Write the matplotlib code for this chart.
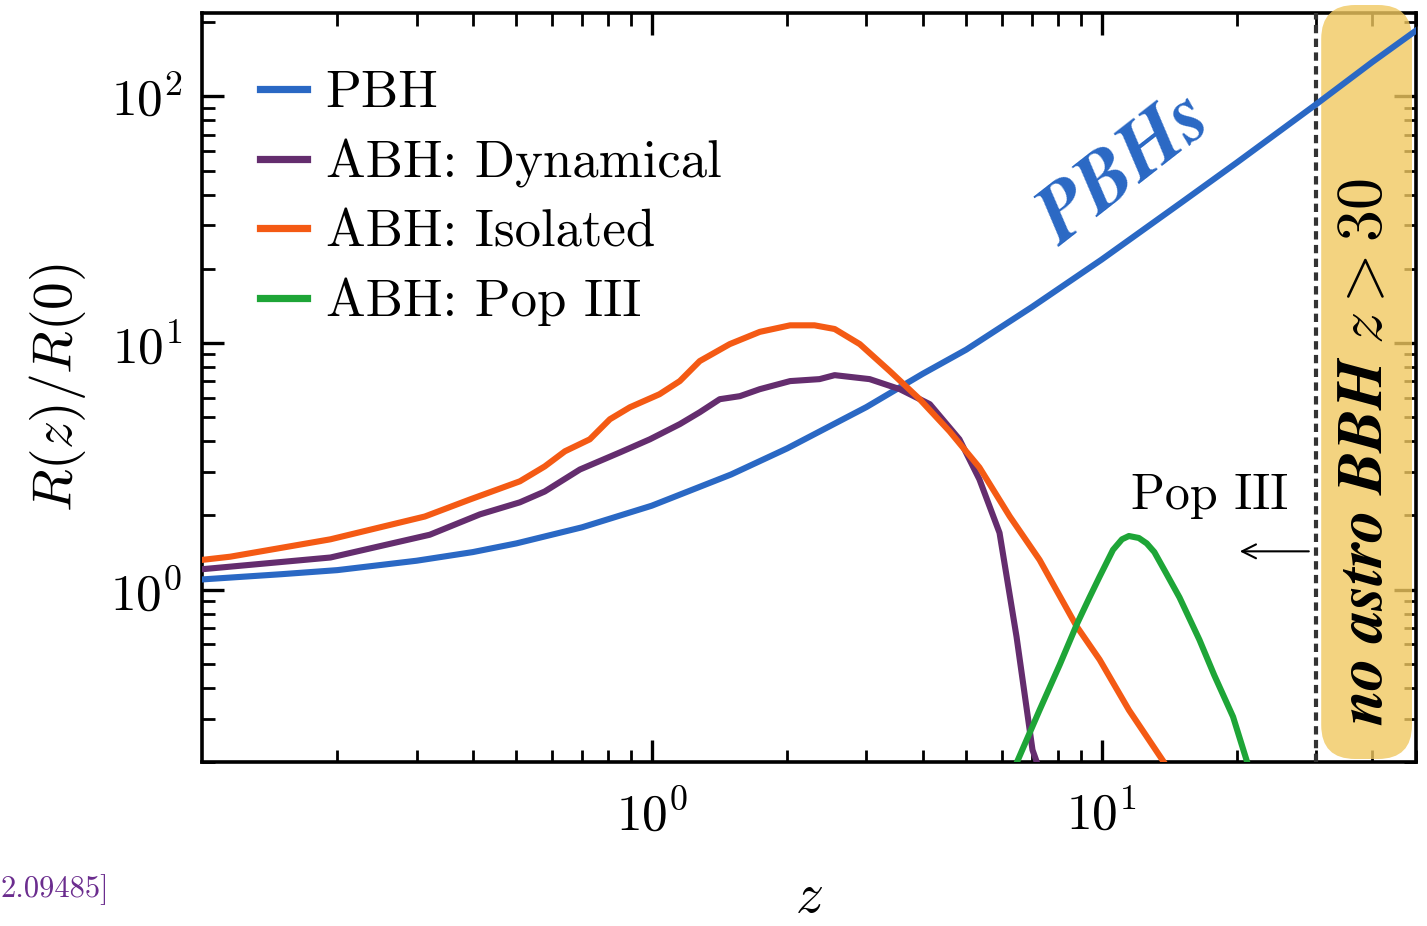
import matplotlib
matplotlib.use("Agg")
import matplotlib.pyplot as plt
from matplotlib.patches import FancyBboxPatch
from matplotlib.transforms import IdentityTransform

# Merger rate evolution R(z)/R(0)
z_pbh = [0.1, 0.15, 0.2, 0.3, 0.4, 0.5, 0.7, 1.0, 1.5, 2.0, 3.0, 4.0, 5.0, 7.0, 10.0, 15.0, 20.0, 30.0, 40.0, 50.0]
r_pbh = [1.10, 1.155, 1.20, 1.31, 1.42, 1.54, 1.79, 2.19, 2.93, 3.74, 5.5, 7.5, 9.4, 14.0, 21.8, 37.0, 54.0, 93.0, 138.0, 185.0]

z_dyn = [0.1, 0.193, 0.321, 0.415, 0.509, 0.578, 0.692, 0.849, 0.99, 1.154, 1.278, 1.416, 1.57, 1.738,
         2.03, 2.36, 2.55, 3.05, 3.56, 4.15, 4.83, 5.35, 5.93, 6.47, 7.02, 7.21]
r_dyn = [1.21, 1.35, 1.67, 2.02, 2.26, 2.50, 3.07, 3.6, 4.07, 4.69, 5.24, 5.92, 6.09, 6.5,
         7.01, 7.14, 7.41, 7.14, 6.5, 5.65, 4.07, 2.8, 1.70, 0.644, 0.224, 0.195]

z_iso = [0.1, 0.1155, 0.193, 0.313, 0.394, 0.509, 0.578, 0.641, 0.728, 0.807, 0.894, 1.04, 1.154, 1.278,
         1.49, 1.738, 2.03, 2.30, 2.55, 2.9, 3.38, 3.94, 4.59, 5.35, 6.25, 7.28, 8.8, 9.9, 11.5, 13.8]
r_iso = [1.32, 1.36, 1.6, 1.98, 2.32, 2.75, 3.16, 3.64, 4.07, 4.91, 5.49, 6.2, 7.01, 8.45,
         9.9, 11.1, 11.8, 11.8, 11.4, 9.9, 7.7, 5.92, 4.39, 3.13, 1.98, 1.32, 0.71, 0.52, 0.325, 0.198]

z_pop3 = [6.47, 7.28, 8.07, 8.84, 9.4, 9.9, 10.6, 11.1, 11.5, 12.1, 12.6, 13.1, 13.9, 14.9, 16.5, 17.8, 19.6, 21.1]
r_pop3 = [0.198, 0.325, 0.496, 0.734, 0.93, 1.13, 1.45, 1.60, 1.65, 1.62, 1.54, 1.42, 1.17, 0.93, 0.626, 0.45, 0.305, 0.198]

labels = ["PBH", "ABH: Dynamical", "ABH: Isolated", "ABH: Pop III"]
colors = ["#2A68C4", "#642D6E", "#F45A14", "#1EA537"]

z_cut = 30.0

# Figure setup, 1427 x 926 px
plt.rcParams["font.family"] = "serif"
plt.rcParams["font.serif"] = ["cmr10"]
plt.rcParams["mathtext.fontset"] = "cm"
plt.rcParams["axes.formatter.use_mathtext"] = True

W, H = 1427, 926
fig = plt.figure(figsize=(W / 100, H / 100), dpi=100)
ax = fig.add_axes([202 / W, 1 - 762 / H, 1214 / W, 749 / H])

series = [(z_pbh, r_pbh), (z_dyn, r_dyn), (z_iso, r_iso), (z_pop3, r_pop3)]
for (zz, rr), lab, col in zip(series, labels, colors):
	ax.plot(zz, rr, color=col, lw=4.4, label=lab, zorder=4, solid_joinstyle="round")

ax.set_xscale("log")
ax.set_yscale("log")
ax.set_xlim(0.1, 50)
ax.set_ylim(0.2, 218)
ax.set_xticks([1, 10])
ax.set_yticks([1, 10, 100])

for s in ax.spines.values():
	s.set_linewidth(2.6)
ax.tick_params(which="both", direction="in", top=True, right=True, labelsize=37)
ax.tick_params(which="major", length=16, width=2.4, pad=14)
ax.tick_params(axis="x", which="major", pad=20)
ax.tick_params(which="minor", length=9, width=2.0)

ax.set_xlabel(r"$z$", fontsize=40, labelpad=24)
ax.set_ylabel(r"$R(z)/R(0)$", fontsize=40, labelpad=16)

# cut at z = 30
ax.axvline(z_cut, color="#333333", lw=3, ls=(0, (2, 1.3)), zorder=3)

# rounded yellow band right of the cut
x0 = ax.transData.transform((z_cut, 1))[0] + 5
bb = ax.get_window_extent()
x1 = bb.x1 - 4
y0 = bb.y0 + 3
y1 = bb.y1 + 8
band = FancyBboxPatch((x0, y0), x1 - x0, y1 - y0, boxstyle="round,pad=0,rounding_size=34",
	transform=IdentityTransform(), fc="#F0C860", ec="none", alpha=0.8, zorder=3, clip_on=False)
ax.add_artist(band)
ax.text((x0 + x1) / 2, bb.y0 + 0.414 * bb.height, r"no astro BBH $z>30$",
	transform=IdentityTransform(), rotation=90, ha="center", va="center",
	fontsize=46, family="STIXGeneral", style="italic", weight="bold", zorder=5)

ax.text(11.3, 50, "PBHs", color=colors[0], fontsize=58, family="STIXGeneral", style="italic",
	weight="bold", rotation=38, ha="center", va="center", rotation_mode="anchor", zorder=5)

ax.text(17.4, 2.39, "Pop III", fontsize=36, ha="center", va="center", zorder=5)
ax.annotate("", xy=(20, 1.43), xytext=(29.3, 1.43),
	arrowprops=dict(arrowstyle="->", lw=1.5, color="k", mutation_scale=25), zorder=5)

leg = ax.legend(loc="upper left", bbox_to_anchor=(0.03, 0.952), frameon=False, fontsize=38,
	handlelength=0.9, handletextpad=0.35, labelspacing=0.41, borderaxespad=0)
for h in leg.get_lines():
	h.set_linewidth(5.2)

fig.text(0.0, 1 - 890 / H, "2.09485]", color="#6B2D8E", fontsize=22, va="center", ha="left")

plt.savefig("out.png", dpi=100)
plt.close(fig)
